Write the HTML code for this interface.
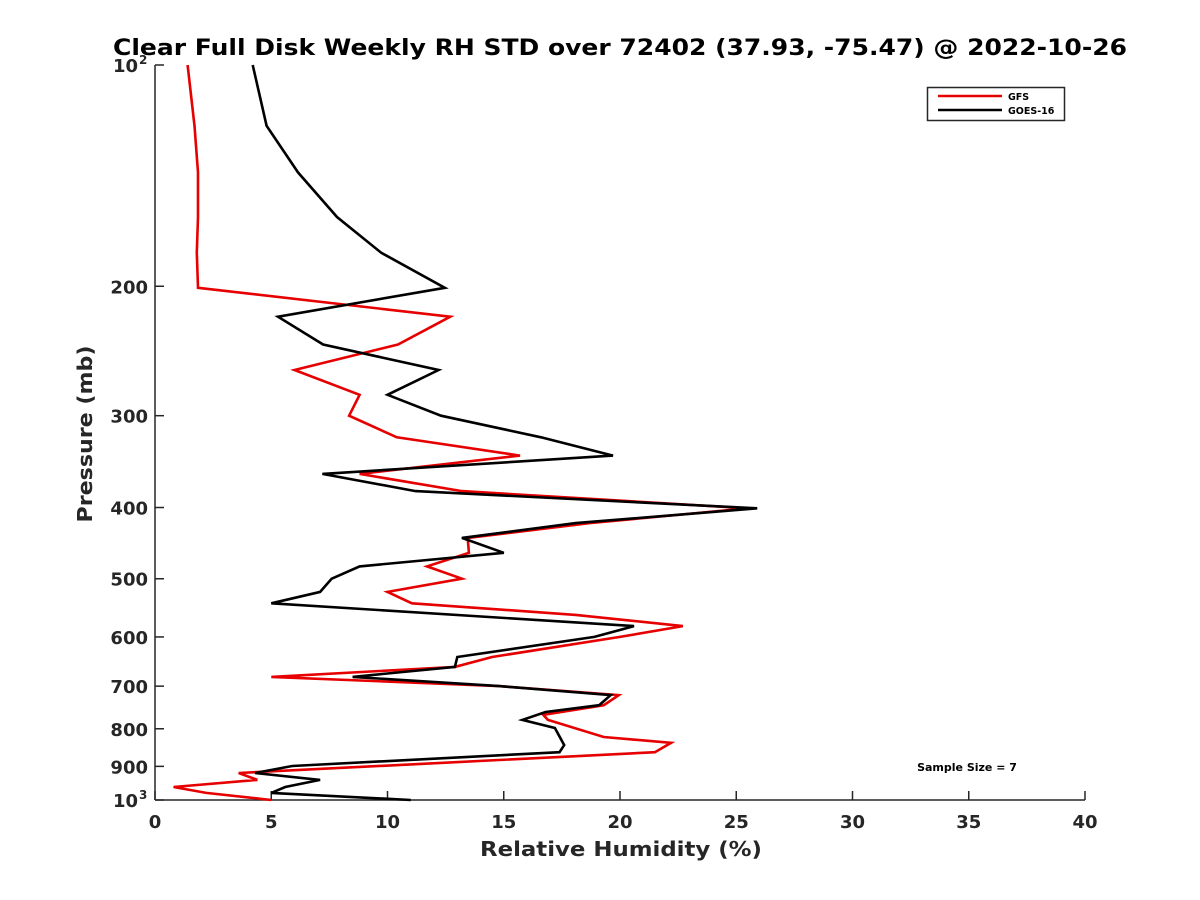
<!DOCTYPE html>
<html><head><meta charset="utf-8"><style>
html,body{margin:0;padding:0;background:#fff;}
svg{display:block;font-family:"DejaVu Sans","Liberation Sans",sans-serif;}
</style></head><body>
<svg id="chart" width="1200" height="900" viewBox="0 0 1200 900">
<text x="620" y="55" text-anchor="middle" font-size="22" font-weight="bold" fill="#000" textLength="1014" lengthAdjust="spacingAndGlyphs">Clear Full Disk Weekly RH STD over 72402 (37.93, -75.47) @ 2022-10-26</text>
<g id="axes"></g>
<g id="series"></g>
<g>
<rect x="927.5" y="87.5" width="137" height="33" fill="#fff" stroke="#262626" stroke-width="1.5"/>
<line x1="938" y1="96" x2="1002" y2="96" stroke="#e60000" stroke-width="2.5"/>
<text x="1008" y="100" font-size="9.5" font-weight="bold">GFS</text>
<line x1="938" y1="110" x2="1002" y2="110" stroke="#000" stroke-width="2.5"/>
<text x="1008" y="114" font-size="9.5" font-weight="bold">GOES-16</text>
</g>
<text x="967" y="771" text-anchor="middle" font-size="11" font-weight="bold">Sample Size = 7</text>
<text x="621" y="856" text-anchor="middle" font-size="20" font-weight="bold" fill="#262626" textLength="282" lengthAdjust="spacingAndGlyphs">Relative Humidity (%)</text>
<text transform="translate(92,434) rotate(-90)" text-anchor="middle" font-size="20" font-weight="bold" fill="#262626" textLength="177" lengthAdjust="spacingAndGlyphs">Pressure (mb)</text>
</svg>
<script>
const xTicks = [0,5,10,15,20,25,30,35,40];
const yTicks = [100,200,300,400,500,600,700,800,900,1000];
const yTickLabels = ["10","200","300","400","500","600","700","800","900","10"];
const yTickSup = ["2","","","","","","","","","3"];
const goesP = [100,121,140,161,180,201,220,240,260,281,300,321,340,360,380,401,420,440,461,481,500,521,540,580,600,639,659,680,700,720,743,759,778,798,842,861,899,919,939,960,978,1000];
const goesRH = [4.2,4.8,6.15,7.83,9.72,12.47,5.29,7.23,12.2,10.0,12.3,16.6,19.7,7.2,11.2,25.9,18.1,13.2,15.0,8.8,7.6,7.1,5.0,20.6,18.9,13.0,12.9,8.5,14.8,19.6,19.1,16.8,15.8,17.2,17.6,17.4,5.9,4.3,7.1,5.6,5.0,11.0];
const gfsP = [100,121,140,161,180,201,220,240,260,281,300,321,340,360,380,401,420,440,461,481,500,521,540,560,580,600,639,659,680,700,720,743,766,778,821,836,861,919,939,960,978,1000];
const gfsRH = [1.4,1.7,1.85,1.85,1.8,1.85,12.7,10.45,6.0,8.8,8.35,10.4,15.7,8.8,13.2,25.5,18.7,13.45,13.5,11.7,13.2,10.0,11.05,18.1,22.7,20.0,14.5,12.9,5.0,14.8,19.95,19.3,16.7,16.9,19.3,22.2,21.5,3.6,4.4,0.8,2.2,5.0];

const NS = "http://www.w3.org/2000/svg";
const X0 = 155, X1 = 1085, Y0 = 65, Y1 = 800;
function xs(v){ return X0 + (v - 0) / 40 * (X1 - X0); }
function ys(p){ return Y0 + (Math.log10(p) - 2) * (Y1 - Y0); }
function mk(tag, attrs, parent){
  const e = document.createElementNS(NS, tag);
  for (const k in attrs) e.setAttribute(k, attrs[k]);
  parent.appendChild(e); return e;
}
const axes = document.getElementById("axes");
const ax = "#262626";
let l = mk("line",{x1:X0,y1:Y0,x2:X0,y2:Y1,stroke:ax,"stroke-width":1.5},axes);


l = mk("line",{x1:X0,y1:Y1,x2:X1,y2:Y1,stroke:ax,"stroke-width":1.5},axes);


xTicks.forEach(v => {
  const t = mk("line",{x1:xs(v),y1:Y1,x2:xs(v),y2:Y1-9,stroke:ax,"stroke-width":1.5},axes);
  
  
  const tx = mk("text",{x:xs(v),y:Y1+28,"text-anchor":"middle","font-size":18,"font-weight":"bold",fill:ax},axes);
  tx.textContent = v;
  
  
});
yTicks.forEach((p,i) => {
  const t = mk("line",{x1:X0,y1:ys(p),x2:X0+9,y2:ys(p),stroke:ax,"stroke-width":1.5},axes);
  
  
  const sup = yTickSup[i];
  const tx = mk("text",{x:X0-7 - (sup ? 10 : 0),y:ys(p)+7,"text-anchor":"end","font-size":18,"font-weight":"bold",fill:ax},axes);
  tx.textContent = yTickLabels[i];
  
  
  if (sup) {
    const s = mk("text",{x:X0-16,y:ys(p)-1,"text-anchor":"start","font-size":12,"font-weight":"bold",fill:ax},axes);
    s.textContent = sup;
    
    
  }
});
const ser = document.getElementById("series");
function line(P, V, color, name){
  const pts = P.map((p,i) => xs(V[i]).toFixed(1) + "," + ys(p).toFixed(1)).join(" ");
  const pl = mk("polyline",{points:pts,fill:"none",stroke:color,"stroke-width":2.6,"stroke-linejoin":"miter"},ser);
  
  
}
line(gfsP, gfsRH, "#e60000", "gfs-line");
line(goesP, goesRH, "#000", "goes16-line");
</script>
</body></html>
